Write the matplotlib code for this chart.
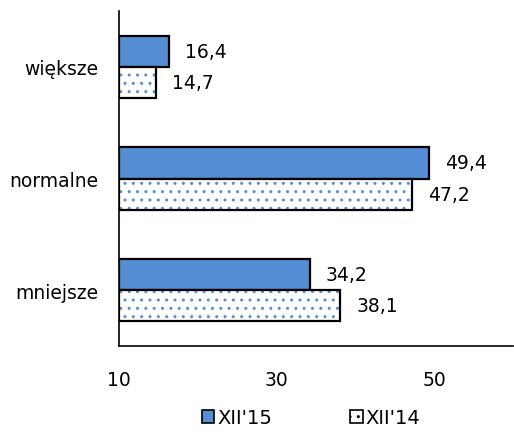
import numpy as np
import matplotlib.pyplot as plt
from matplotlib.patches import Patch

categories = ['większe', 'normalne', 'mniejsze']
vals_15 = [16.4, 49.4, 34.2]
vals_14 = [14.7, 47.2, 38.1]
series = ["XII'15", "XII'14"]

blue = '#558ED5'
fs = 13.5
plt.rcParams['font.family'] = 'DejaVu Sans'
plt.rcParams['hatch.linewidth'] = 1.0

fig = plt.figure(figsize=(5.14, 4.35), dpi=100)
ax = fig.add_axes([0.2315, 0.2023, 0.7665, 0.7697])

y = np.arange(len(categories))
h = 0.28
left = 10

ax.barh(y - h / 2, np.array(vals_15) - left, left=left, height=h,
        color=blue, edgecolor='black', linewidth=1.6)
# dotted bars: hatch layer + black outline layer
ax.barh(y + h / 2, np.array(vals_14) - left, left=left, height=h,
        color='white', edgecolor=blue, hatch='..', linewidth=0)
ax.barh(y + h / 2, np.array(vals_14) - left, left=left, height=h,
        color='none', edgecolor='black', linewidth=1.6)

for yi, v in zip(y, vals_15):
    ax.text(v + 2.0, yi - h / 2, f'{v:.1f}'.replace('.', ','), va='center', fontsize=fs)
for yi, v in zip(y, vals_14):
    ax.text(v + 2.0, yi + h / 2, f'{v:.1f}'.replace('.', ','), va='center', fontsize=fs)

ax.set_xlim(10, 60)
ax.set_ylim(2.5, -0.5)
ax.set_xticks([10, 30, 50])
ax.set_yticks(y)
ax.set_yticklabels(categories, fontsize=fs)
ax.tick_params(axis='x', length=0, pad=17, labelsize=fs)
ax.tick_params(axis='y', length=0, pad=15)
ax.spines['top'].set_visible(False)
ax.spines['right'].set_visible(False)
for s in ['left', 'bottom']:
    ax.spines[s].set_linewidth(1.2)

handles = [Patch(facecolor=blue, edgecolor='black', linewidth=1.2),
           Patch(facecolor='white', edgecolor=blue, hatch='..', linewidth=1.2)]
leg = fig.legend(handles, series, loc='lower center', ncol=2, frameon=False,
                 fontsize=14, bbox_to_anchor=(0.605, -0.025), handlelength=0.65,
                 handleheight=0.65, handletextpad=0.15, columnspacing=4.0)
leg.legend_handles[1].set_edgecolor('black')

fig.savefig('out.png', dpi=100)
